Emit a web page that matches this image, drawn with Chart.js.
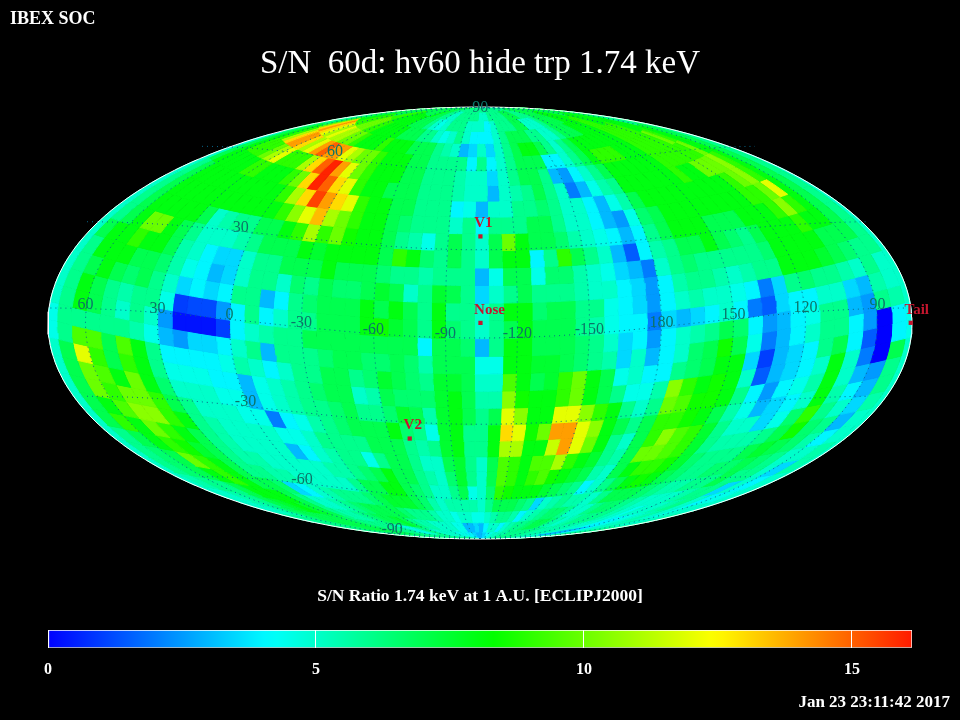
<!DOCTYPE html>
<html><head><meta charset="utf-8">
<style>html,body{margin:0;padding:0;background:#000;width:960px;height:720px;overflow:hidden}canvas{position:absolute;left:0;top:0}</style>
<script src="https://cdn.jsdelivr.net/npm/chart.js@4/dist/chart.umd.min.js"></script>
</head><body>
<canvas id="map" width="960" height="720"></canvas>
<canvas id="bar" width="960" height="720"></canvas>
<script>
// S/N per 6 deg x 6 deg sky bin. Row 00 is the top of the map, columns run left to right.
const row00=[7,7,7,7,7,7,7,7,7,7, 7,7,7,7,7,7,7,7,7,7, 6,6,6,6,6,6,6,6,6,6, 6,6,6,6,6,6,6,6,6,6, 6,6,6,7,7,7,7,7,7,7, 7,7,7,7,7,7,7,7,7,7];
const row01=[6,6,7,7,8,8,9,9,9,9, 9,9,8,8,8,8,8,8,8,7, 7,6,6,5,5,6,6,6,6,6, 5,5,6,6,6,6,7,7,7,6, 6,6,6,7,7,7,8,8,8,8, 8,8,8,8,8,8,7,7,6,6];
const row02=[6,7,8,10,13,14,13,12,11,10, 10,10,9,9,8,8,8,8,7,7, 7,6,5,4.5,5,6,6,6,5,5, 5,4,5,6,6,6,7,7,5,5, 5,6,7,7,7,8,8,8,8,9, 9,9,9,9,8,8,8,7,7,6];
const row03=[5,7,8,9,11,13,14,14,13,12, 11,11,10,10,9,8,8,8,8,7, 7,7,6,6,5,4.5,5,6,5,4, 4,4,5,6,7,7,7,6,6,5, 5,6,7,8,8,8,8,8,8,9, 9,9,9,9,10,9,8,8,7,6];
const row04=[5,7,8,9,9,9,10,11,12,11, 12,14,15,14,14,12,11,10,9,8, 8,8,7,7,7,6,5.5,5,3,3.5, 5,3.5,5,6,7,8,8,7,6,5, 6,7,8,9,9,9,8,8,8,9, 9,9,9,9,9,10,8,8,7,6];
const row05=[5,6,7,8,8,8,8,9,9,9, 9,9,11,13,15,16,14,12,10,9, 8,8,8,7,7,6,6,6,6,4, 6,4,5,6,7,7,7,4,4,5, 6,7,8,8,8,8,8,8,8,9, 9,9,10,10,10,10.5,9,8,7,6];
const row06=[5,6,7,8,8,8,8,8,8,8, 8,8,9,10,13,16,15,13,10,9, 8,8,8,7,7,6,6,6,5.5,5, 5,3.5,5,6,7,7,6,3,2.5,4, 5,6,7,8,8,8,8,8,8,9, 8,8,8,9,10,10.5,9,8,7,6];
const row07=[5,6,7,8,8,8,8,8,8,8, 8,8,8,9,11,13,15.5,14,12,9, 8,8,7,7,7,6,6,6,5.5,5, 5,3,5,5.5,6,7,6,5,2,3, 4.5,5.5,6,7,8,8,8,8,8,8, 8,8,8,9,9,10,12,8,7,6];
const row08=[5,6,7,8,8,8,8,8,7,8, 8,8,8,8,9,10.5,12,13.5,13,12, 9,8,8,7,7,6,6,6,4,4.5, 3,5,5,6,6,6.5,6,5,5,4, 3,4.5,5.5,6.5,7,8,8,8,8,8, 8,8,8,8,9,10.5,9,8,7,6];
const row09=[5,7,8,8,10,10,8,7,6,5, 5.5,6,6,7,7,8,9,11,11,10, 9,8,8,7,6.5,6,6,6,5,6, 4,6,6,6,7,7,6,5,5,4, 3,2.5,4.5,6,7,8,8,8,7,7, 7,8,8,8,8,9,8,8,7,6];
const row10=[5,6,8,8,9,8,8,7,5.5,5, 5,5,5.5,6,7,7,7,8,9,10, 8.5,8,8,7,6,5.5,4.5,6,7,6, 5,7,10,8,7,7,6.5,5.5,5,4.5, 4,3,4,5.5,6,7,7,8,7,6.5, 6,7,8,8,8,8,7,7,6,6];
const row11=[5,6,7,8,8,7,7,6.5,5.5,5, 4,3.5,3.5,5,6,6,7,7,7.5,8, 8,8,8,7,9,8,6.5,6,7,6, 5,7,8,8,4,6,9,7,6,5, 3,1.5,4,5,6,6.5,6,6,6,6, 6,6.5,8,8,8,7.5,7,6.5,6,5];
const row12=[5,6,8,8,7,6.5,7,6,5,4.5, 4,3,3.5,5,6,6,5,6.5,7,8, 7,7,7,6.5,6,6,5.5,6,6,6, 3,4.5,7,7,4.5,6.5,6.5,5.5,5,4.5, 3.5,3,2,4,5.5,6,6,5.5,5,5.5, 6,6,6,6.5,6,6,5.5,5,5.5,5];
const row13=[5,6,8,7,6,5.5,6,6,4.5,3.5, 4,3.5,4,6,6,3,4,6,6,7, 6.5,6.5,7,7.5,7,5,6,7.5,7,6, 3.5,5,6,7,6,6,6,5.5,5,5, 4,3.5,2.5,4,5,5.5,5,5,4.5,4, 2,3.5,4,4,5,5,3.5,3,6,5.5];
const row14=[4.5,6,6,7,6,5,6,5,2.5,1, 1.2,1.2,2.5,4,6,4,5,6,6.5,7, 7,7,8,7,8,7,6,8,6,6, 5,6,8,8,6.5,7,7,6,6,4.5, 4,3.5,2.5,3.5,3,3.5,4,5,4,2, 1.5,3.5,4,4.5,6,6,3,2.5,0,4];
const row15=[4.5,6,9.5,6,6,6,5.5,4.5,3,0.3, 0.3,0.3,1,4,5,5.5,6,6,6,7, 7,7,8,8.5,7.5,7,6,8,6.5,6, 5,6,7,8,7,7,7,6,5.5,4.5, 4,4,2,4,5,5.5,6,7,6.5,4, 2.5,3,4,5,6,6,4,2.5,0,4];
const row16=[5,7,12,9.5,7,9.5,8,6,4,2.5, 3.5,3.5,4,5,6,3,6,6,7,7, 7,7,7,7,7,7,4,7,7,6.5, 3,6,8,8,7,7,7,6.5,6,5, 3.5,4,2.5,4,5,6.5,7,8.5,7,4.5, 2,3,3.5,4,6,7,4,1.5,0,7];
const row17=[5,7,10,9,7,9,8,6,4.5,4, 4,4,4.5,5.5,5,4,5,6,6,6.5, 7,7,6.5,6.5,7,6.5,5.5,7,7,7, 4.5,4.5,8,8,7.5,7.5,7,6.5,6,5.5, 3.5,5,3,4,6,6.5,7,8,8,3.5, 1,3,3.5,4,5,8,5,2,2.5,6];
const row18=[5,7,10,9.5,8,10,8,6.5,5,4.5, 4.5,4,4,3,4.5,5,5.5,6,6,7, 7,6,6.5,7.5,7,6.5,6,7.5,7.5,7, 5,5,9.5,8,7,7.5,9,10,8,7, 4.5,5,4,5.5,10.5,9,8,8.5,8,5, 1.5,3,4,4.5,5.5,8,5,3,3,6];
const row19=[5,7,8,9,10,10,9,7,6,5, 5,4.5,4.5,3,4.5,5,5.5,6,6.5,7, 7,5,5.5,7,6.5,6.5,6.5,7.5,8,7, 5.5,5.5,10.5,8.5,8,8,9,10,8,7, 6,4.5,4.5,6,10,9.5,8.5,8.5,8,6, 4,2.5,3.5,4,5,8,5.5,4,3.5,5.5];
const row20=[5,7,9,9.5,10.5,10.5,9,8,6,5, 5,5,4.5,4.5,2,4,4.5,5.5,6,6.5, 7,6,6,6.5,7.5,7,5.5,7.5,8,7, 6,7,12,10.5,8,8,12,12,10.5,9, 8,6,5,7,9,9,8.5,8,7,5.5, 4.5,3,3.5,4.5,6.5,9,6,5,3,5];
const row21=[5,6,7,8,10,9,8,7,6,5.5, 5,5,5,5,4.5,4.5,5,6,6,6.5, 7,7,7,8,6.5,6,4.5,7.5,8,6, 6,8,13,12,8.5,10,14,14,12,10.5, 8,7,6,7,9,10.5,9.5,9,7.5,6, 5,5,5.5,6,7,8.5,6.5,6,4,5];
const row22=[5,6,6.5,8,9,8.5,7.5,7,6,5.5, 5,5,5,5,3,4,5,5.5,6,6, 6,7,7,7,6,5.5,6,7.5,8,6, 6,8,11,11,8,8,11.5,14,12,10, 8,6,5,7,10,10,9.5,9,7.5,6, 5.5,5.5,6,7,7.5,7,6.5,5.5,5,5.5];
const row23=[5,6,6.5,7,10,9,8,7,6,5.5, 5.5,5,5,5,5,5,5.5,5.5,6,6, 4.5,6,7,7,6,5,5,7,7.5,6, 5,7,9.5,9,8,9.5,9.5,11,9,8, 7.5,6,5.5,7,8,9,9,8.5,7.5,6.5, 6,6,6.5,6.5,7,6.5,6,5,3.5,5.5];
const row24=[5,5.5,6,7,8,9,8,7,7,6, 5.5,5.5,5,5,5,5,5,6,6,6.5, 7,8,7,7,6,5.5,5,6.5,7.5,6, 5,7,9.5,9,8,9,9.5,8.5,8,7.5, 7,5.5,5,6,7,8,8.5,8,7,6.5, 6,6,6,6,7,6,6,5,4,5];
const row25=[5,5,5.5,6,7,8,8,8,7,6.5, 3.5,4,5,5.5,6,6,6,6.5,7,7, 8,8,7,6.5,6,5,5,6,7,4.5, 5,6.5,9,8.5,8,8,8,7.5,7,6.5, 6,4,5,5,6,7,7,7,6.5,6, 5.5,5.5,5,5.5,6,6,3.5,5,4.5,5];
const row26=[5,5,5.5,6,7,7.5,8,7.5,7,6, 5,5,5.5,6,6.5,7,7,7,7,7.5, 7.5,7.5,7,6.5,5.5,5,5.5,5.5,5.5,5.5, 5,6,7,7,7,6.5,6,3.5,5,5.5, 6,5.5,5.5,5,5,6,6.5,6.5,6,5.5, 5,5,5,5,5.5,6,5,4,5,5];
const row27=[5.5,6,6,6.5,7,7,7,7,6.5,6, 5.5,5.5,6,6.5,7,7,7.5,7,7,6.5, 6,6,6,5.5,5,5,4.5,5,5,4.5, 4.5,5,5.5,6,6,5.5,4,5,5.5,6, 6.5,6.5,6,5.5,5,5.5,6,6,6,5.5, 5,4.5,4,4.5,5,5.5,5,4.5,5,5.5];
const row28=[6,6,6.5,6.5,7,7,7,7,6.5,6, 6,6,6,5,4.5,5,6,6,6,5.5, 5.5,5,5,5,5,4.5,4.5,3,3,3.5, 3,4,5,5,4,5,5.5,6,6,6.5, 7,7,6.5,6,5.5,5.5,5.5,5.5,5.5,5, 5,4.5,3,4,5,5,5.5,5.5,6,6];
const row29=[6,6,6,6,6,6,6,6,6,6, 6,6,5.5,5.5,5.5,5,5,5,5,5, 5,5,5,4.5,4.5,4.5,4,4,3.5,3, 3,3.5,4,4.5,5,5,5.5,5.5,6,6, 6,6,6,6,6,5.5,5.5,5.5,5,5, 5,5,5,5,5.5,5.5,6,6,6,6];
const rows=[row00,row01,row02,row03,row04,row05,row06,row07,row08,row09,row10,row11,row12,row13,row14,row15,row16,row17,row18,row19,row20,row21,row22,row23,row24,row25,row26,row27,row28,row29];

const colorTicks=[0,5,10,15];
const colorMax=16.12;
const colorStops=[[0,[0,0,255]],[4.14,[0,255,255]],[8.28,[0,255,0]],[12.42,[255,255,0]],[16.56,[255,0,0]]];
const meridianLons=[0,30,60,90,120,150,180,210,240,270,300,330];
const parallelLats=[60,30,0,-30,-60];
const parallelSag=[12,14,15,14,11];
const lonLabelText=['60','30','0','-30','-60','-90','-120','-150','180','150','120','90'];
const lonLabelLon=[60,30,0,-30,-60,-90,-120,-150,180,150,120,90];
const latLabelText=['90','60','30','-30','-60','-90'];
const latLabelLat=[88.5,62.7,32.8,-27.1,-56.7,-81.8];
const latLabelLon=[255,-5.8,6.6,0.6,3.6,23.4];
const siteNames=['V1','Nose','V2','Tail'];
const siteLon=[255.4,255.4,289,75.7];
const siteLat=[34.8,5.1,-36,-5];
const titleText='S/N  60d: hv60 hide trp 1.74 keV';
const barTitle='S/N Ratio 1.74 keV at 1 A.U. [ECLIPJ2000]';
const cornerLeft='IBEX SOC';
const cornerRight='Jan 23 23:11:42 2017';

const W=432,H=216,LEFT_LON=75.6,LAT_SHIFT=0.7,ROW_TILT=18.6;
const SERIF='"Liberation Serif","DejaVu Serif",serif';
const TEAL='#0b7468',DOT='#08678a',RED='#c4162e';
const rad=Math.PI/180;
function theta(lat){
  if(Math.abs(lat)>=90)return Math.sign(lat)*Math.PI/2;
  let t=lat*rad*0.785,k=Math.PI*Math.sin(lat*rad);
  for(let i=0;i<40;i++){t-=(2*t+Math.sin(2*t)-k)/(2+2*Math.cos(2*t)+1e-9);}
  return t;
}
function proj(u,lat){const t=theta(lat);return{x:(u-180)/180*W*Math.cos(t),y:H*Math.sin(t)};}
function uOf(lon){return (((LEFT_LON-lon)%360)+720)%360;}
function gridProj(lon,lat,sag){const u=uOf(lon),p=proj(u,lat);return{x:p.x,y:p.y-sag*Math.cos((u-180)*rad)};}
function sagAt(lat){const a=Math.abs(lat);return a>=75?0:a>=45?12:a>=15?14:15;}
function colorOf(v){
  for(let i=1;i<colorStops.length;i++){
    const a=colorStops[i-1],b=colorStops[i];
    if(v<=b[0]){const f=Math.max(0,(v-a[0])/(b[0]-a[0]));
      return 'rgb('+a[1].map((c,j)=>Math.round(c+(b[1][j]-c)*f)).join(',')+')';}
  }
  return 'rgb(255,0,0)';
}
function tilt(u){const d=(u-180)/180;return ROW_TILT*d*d;}
function clampLat(l){return Math.max(-90,Math.min(90,l));}
function cellPoly(u0,u1,la0,la1,k,r){
  const n=3,p=[];
  const pt=(u,la,fixed)=>proj(u,fixed?la:clampLat(la+tilt(u)-6*k));
  const top0=r===0,bot0=r===29;
  for(let i=0;i<=n;i++)p.push(pt(u0+(u1-u0)*i/n,la1,top0));
  for(let i=1;i<n;i++)p.push(pt(u1,la1+(la0-la1)*i/n,false));
  for(let i=0;i<=n;i++)p.push(pt(u1+(u0-u1)*i/n,la0,bot0));
  for(let i=1;i<n;i++)p.push(pt(u0,la0+(la1-la0)*i/n,false));
  return p;
}
const datasets=[];
rows.forEach((row,r)=>{
  const top=r===0?90:90-6*r+LAT_SHIFT,bot=r===29?-90:84-6*r+LAT_SHIFT;
  for(let c=0;c<=60;c++){
    const v=row[c%60],col=colorOf(v);
    const u0=Math.max(0,6*c-2.4),u1=Math.min(360,6*c+3.6);
    const k=Math.round(tilt(6*c+0.6)/6-0.05);
    datasets.push({type:'scatter',showLine:true,fill:'shape',data:cellPoly(u0,u1,bot,top,k,r),backgroundColor:col,borderColor:col,borderWidth:1,pointRadius:0,tension:0,order:5});
  }
});
const outline=[];for(let a=0;a<=360;a+=1.5)outline.push({x:W*Math.cos(a*rad),y:H*Math.sin(a*rad)});
datasets.push({type:'scatter',showLine:true,fill:false,data:outline,borderColor:'#fff',borderWidth:1,pointRadius:0,order:3,clip:false});
meridianLons.forEach(lon=>{
  const pts=[];for(let la=-90;la<=90;la+=3)pts.push(proj(uOf(lon),la));
  datasets.push({type:'scatter',showLine:true,fill:false,data:pts,borderColor:DOT,borderWidth:1,borderDash:[1,4],pointRadius:0,order:2});
});
parallelLats.forEach((lat,i)=>{
  const pts=[];for(let u=1;u<=359;u+=4){const p=proj(u,lat);pts.push({x:p.x,y:p.y-parallelSag[i]*Math.cos((u-180)*rad)});}
  datasets.push({type:'scatter',showLine:true,fill:false,data:pts,borderColor:DOT,borderWidth:1,borderDash:[1,4],pointRadius:0,order:2});
});
datasets.push({type:'scatter',data:siteLon.map((l,i)=>gridProj(l,siteLat[i],sagAt(siteLat[i]))),backgroundColor:RED,borderColor:RED,borderWidth:0,pointStyle:'rect',pointRadius:3,order:1,clip:false});

const labelPlugin={id:'maplabels',afterDatasetsDraw(chart){
  const {ctx,scales:{x,y}}=chart;
  ctx.save();ctx.textAlign='center';ctx.textBaseline='middle';
  ctx.font='16px '+SERIF;ctx.fillStyle=TEAL;
  lonLabelText.forEach((t,i)=>{const p=gridProj(lonLabelLon[i],0,15);ctx.fillText(t,x.getPixelForValue(p.x),y.getPixelForValue(p.y)-4);});
  latLabelText.forEach((t,i)=>{const p=proj(uOf(latLabelLon[i]),latLabelLat[i]);ctx.fillText(t,x.getPixelForValue(p.x),y.getPixelForValue(p.y));});
  ctx.fillStyle=RED;ctx.font='bold 15px '+SERIF;
  siteNames.forEach((t,i)=>{const p=gridProj(siteLon[i],siteLat[i],sagAt(siteLat[i]));
    const dx=t==='Nose'?9:t==='Tail'?6:3;
    ctx.fillText(t,x.getPixelForValue(p.x)+dx,y.getPixelForValue(p.y)-13);});
  ctx.fillStyle='#fff';
  ctx.textAlign='left';ctx.font='bold 18px '+SERIF;ctx.fillText(cornerLeft,10,19);
  ctx.textAlign='right';ctx.font='bold 17px '+SERIF;ctx.fillText(cornerRight,950,703);
  ctx.restore();
}};

new Chart(document.getElementById('map'),{
  data:{datasets},
  options:{responsive:false,animation:false,events:[],
    layout:{padding:{left:48,right:48,top:0,bottom:181}},
    scales:{x:{type:'linear',min:-W,max:W,display:false},y:{type:'linear',min:-H,max:H,display:false}},
    plugins:{legend:{display:false},tooltip:{enabled:false},
      title:{display:true,text:titleText,color:'#fff',font:{family:SERIF,size:33,weight:'normal',lineHeight:1.2},padding:{top:45,bottom:22.4}}}},
  plugins:[labelPlugin]
});

new Chart(document.getElementById('bar'),{
  type:'bar',
  data:{labels:['S/N'],datasets:[{data:[[0,colorMax]],barPercentage:1,categoryPercentage:1,borderColor:'#fff',borderWidth:1,borderSkipped:false,
    backgroundColor(ctx){
      const c=ctx.chart;if(!c.chartArea)return '#000';
      const sx=c.scales.x,g=c.ctx.createLinearGradient(sx.getPixelForValue(0),0,sx.getPixelForValue(colorMax),0);
      for(let i=0;i<=64;i++){const v=colorMax*i/64;g.addColorStop(i/64,colorOf(v));}
      return g;}
  }]},
  options:{indexAxis:'y',responsive:false,animation:false,events:[],
    layout:{padding:{left:48,right:48,top:0,bottom:29}},
    scales:{
      y:{display:false},
      x:{type:'linear',min:0,max:colorMax,
        afterBuildTicks(a){a.ticks=colorTicks.map(v=>({value:v}));},
        border:{display:false},
        grid:{color:'#fff',lineWidth:1,drawTicks:false,z:1},
        ticks:{color:'#fff',font:{family:SERIF,size:16,weight:'bold'},padding:12,maxRotation:0,autoSkip:false}}
    },
    plugins:{legend:{display:false},tooltip:{enabled:false},
      title:{display:true,text:barTitle,color:'#fff',font:{family:SERIF,size:17.5,weight:'bold',lineHeight:1.2},padding:{top:586,bottom:23}}}}
});
</script>
</body></html>
